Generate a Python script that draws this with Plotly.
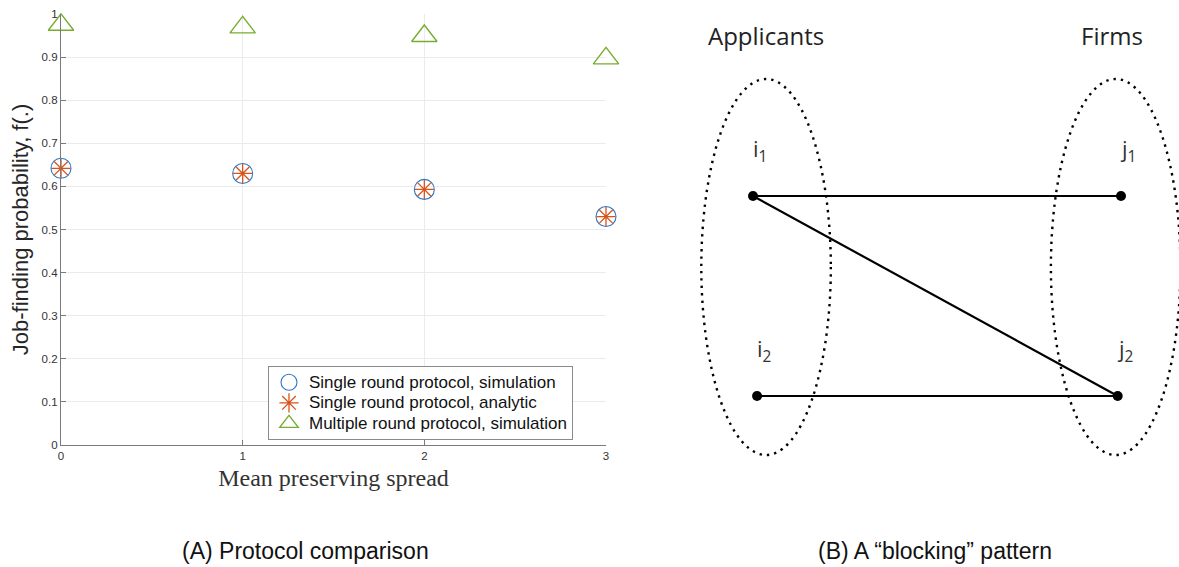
import plotly.graph_objects as go

# ---------------- data: panel A ----------------
spread = [0, 1, 2, 3]
single_sim = [0.642, 0.630, 0.593, 0.530]
single_analytic = [0.642, 0.630, 0.593, 0.530]
multiple_sim = [0.975, 0.969, 0.949, 0.897]
x_ticks = [0, 1, 2, 3]
y_ticks = [0, 0.1, 0.2, 0.3, 0.4, 0.5, 0.6, 0.7, 0.8, 0.9, 1]
series_names = ["Single round protocol, simulation",
                "Single round protocol, analytic",
                "Multiple round protocol, simulation"]

# ---------------- data: panel B (diagram) ----------------
node_labels = ["i<sub>1</sub>", "i<sub>2</sub>", "j<sub>1</sub>", "j<sub>2</sub>"]
node_x = [0.0, 0.011, 1.0, 0.991]
node_y = [1.0, 0.0, 1.0, 0.0]
edges = [(0, 2), (0, 3), (1, 3)]
group_names = ["Applicants", "Firms"]
group_members = [[0, 1], [2, 3]]

W, H = 1179, 567
fig = go.Figure()


def legend_name(s):
    return '<span style="font-size:17px">' + s + '</span>'


fig.add_trace(go.Scatter(
    x=spread, y=single_sim, mode="markers", name=legend_name(series_names[0]),
    marker=dict(symbol="circle-open", size=20, color="#2f78c8",
                line=dict(width=1.1, color="#2f78c8")),
    cliponaxis=False))
fig.add_trace(go.Scatter(
    x=spread, y=single_analytic, mode="markers", name=legend_name(series_names[1]),
    marker=dict(symbol="asterisk-open", size=16, color="#D95319",
                line=dict(width=1.3, color="#D95319")),
    cliponaxis=False))
fig.add_trace(go.Scatter(
    x=spread, y=multiple_sim, mode="markers", name=legend_name(series_names[2]),
    marker=dict(symbol="triangle-up-open", size=22, color="#77AC30",
                line=dict(width=1.4, color="#77AC30")),
    cliponaxis=False))

# diagram edges
for a, b in edges:
    fig.add_trace(go.Scatter(
        x=[node_x[a], node_x[b]], y=[node_y[a], node_y[b]],
        mode="lines", line=dict(color="black", width=2.2),
        showlegend=False, hoverinfo="skip", xaxis="x2", yaxis="y2"))
fig.add_trace(go.Scatter(
    x=node_x, y=node_y, mode="markers",
    marker=dict(color="black", size=10),
    showlegend=False, hoverinfo="skip", xaxis="x2", yaxis="y2"))

# diagram ellipses around groups (derived from node positions)
shapes = []
offsets = [0.03, -0.01]
for g, members in enumerate(group_members):
    cx = sum(node_x[m] for m in members) / len(members) + offsets[g]
    cy = sum(node_y[m] for m in members) / len(members) + 0.145
    rx, ry = 0.176, 0.94
    shapes.append(dict(type="circle", xref="x2", yref="y2",
                       x0=cx - rx, x1=cx + rx, y0=cy - ry, y1=cy + ry,
                       line=dict(color="black", width=2.4, dash="2.4px,5px")))

annotations = []
hand_font = dict(family="Open Sans", size=24, color="#222222")
for g, members in enumerate(group_members):
    gx = sum(node_x[m] for m in members) / len(members) + [0.03, -0.02][g]
    annotations.append(dict(text=group_names[g], x=gx, y=1.805, xref="x2", yref="y2",
                            showarrow=False, font=hand_font,
                            xanchor="center", yanchor="middle"))
for k, lab in enumerate(node_labels):
    annotations.append(dict(text=lab, x=node_x[k] + 0.02, y=node_y[k] + 0.23,
                            xref="x2", yref="y2", showarrow=False,
                            xanchor="center", yanchor="middle",
                            font=dict(family="Open Sans", size=22, color="#333333")))

cap_font = dict(family="Liberation Sans", size=23, color="#111111")
annotations.append(dict(text="(A) Protocol comparison", x=305 / W, y=(H - 551) / H,
                        xref="paper", yref="paper", showarrow=False, font=cap_font,
                        xanchor="center", yanchor="middle"))
annotations.append(dict(text="(B) A \u201cblocking\u201d pattern", x=935 / W, y=(H - 551) / H,
                        xref="paper", yref="paper", showarrow=False, font=cap_font,
                        xanchor="center", yanchor="middle"))

# mapping of diagram units
px_per_x, px_per_y = 368.0, 200.0
x_left_px, x0_px = 680.0, 753.0
y_row1_px, y_row2_px = 196.0, 396.0

fig.update_layout(
    width=W, height=H, margin=dict(l=0, r=0, t=0, b=0),
    paper_bgcolor="white", plot_bgcolor="white",
    shapes=shapes, annotations=annotations,
    font=dict(family="Liberation Sans", color="#262626"),
    xaxis=dict(domain=[61 / W, 606 / W], range=[0, 3], tickvals=x_ticks,
               showgrid=True, gridcolor="#ebebeb", zeroline=False,
               showline=True, linecolor="#7a7a7a", linewidth=1.2,
               ticks="inside", ticklen=5, tickcolor="#7a7a7a",
               tickfont=dict(size=11.5, color="#333333"),
               title=dict(text="Mean preserving spread",
                          font=dict(family="Liberation Serif", size=24, color="#333333"),
                          standoff=8),
               automargin=False),
    yaxis=dict(domain=[(H - 445) / H, (H - 14) / H], range=[0, 1], tickvals=y_ticks,
               showgrid=True, gridcolor="#ebebeb", zeroline=False,
               showline=True, linecolor="#7a7a7a", linewidth=1.2,
               ticks="inside", ticklen=5, tickcolor="#7a7a7a",
               tickfont=dict(size=11.5, color="#333333"),
               title=dict(text="Job-finding probability, f(.)",
                          font=dict(family="Liberation Sans", size=22, color="#262626"),
                          standoff=6),
               automargin=False),
    xaxis2=dict(domain=[x_left_px / W, 1],
                range=[-(x0_px - x_left_px) / px_per_x, (W - x0_px) / px_per_x],
                visible=False, fixedrange=True, anchor="y2"),
    yaxis2=dict(domain=[0, 1],
                range=[-(H - y_row2_px) / px_per_y, 1 + y_row1_px / px_per_y],
                visible=False, fixedrange=True, anchor="x2"),
    legend=dict(x=268 / W, y=(H - 366) / H, xanchor="left", yanchor="top",
                bgcolor="white", bordercolor="#8a8a8a", borderwidth=1,
                font=dict(family="Liberation Sans", size=13.5, color="#111111"),
                tracegroupgap=0, itemwidth=30),
    showlegend=True,
)

fig.write_html("out.html", config={"displayModeBar": False},
               post_script="document.body.style.margin='0';document.body.style.overflow='hidden';")
